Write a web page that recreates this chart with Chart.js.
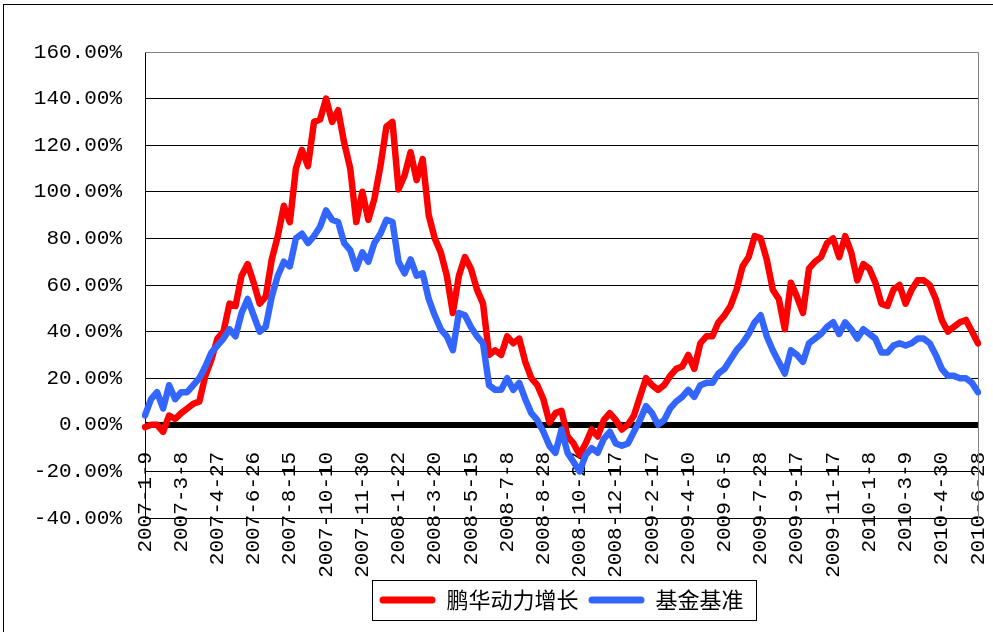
<!DOCTYPE html>
<html>
<head>
<meta charset="utf-8">
<script src="https://cdn.jsdelivr.net/npm/chart.js@4.4.0/dist/chart.umd.min.js"></script>
<style>
  html, body { margin: 0; padding: 0; background: #fff; overflow: hidden; }
  #frame { position: absolute; left: 3px; top: 4px; width: 1100px; height: 800px; border: 1px solid #000; }
  #wrap { position: absolute; left: 0; top: 0; width: 993px; height: 632px; }
</style>
</head>
<body>
<div id="frame"></div>
<div id="wrap"><canvas id="myChart" width="993" height="632"></canvas></div>
<script>
// fechas que se muestran en el eje x (una cada 6 muestras)
const tickLabels = ['2007-1-9', '2007-3-8', '2007-4-27', '2007-6-26', '2007-8-15', '2007-10-10',
    '2007-11-30', '2008-1-22', '2008-3-20', '2008-5-15', '2008-7-8', '2008-8-28',
    '2008-10-27', '2008-12-17', '2009-2-17', '2009-4-10', '2009-6-5', '2009-7-28',
    '2009-9-17', '2009-11-17', '2010-1-8', '2010-3-9', '2010-4-30', '2010-6-28'];
const pointsPerTick = 6;

const seriesNames = ['鹏华动力增长', '基金基准'];

// valores en %
const fundValues = [
    -1, 0, 0, -3, 4, 2.5, 5, 7, 9, 10, 21, 28,
    37, 40, 52, 51, 64, 69, 61, 52, 55, 71, 81, 94,
    87, 110, 118, 111, 130, 131, 140, 130, 135, 121, 110, 87,
    100, 88, 97, 111, 128, 130, 101, 107, 117, 105, 114, 90,
    80, 74, 64, 48, 64, 72, 67, 58, 52, 30, 32, 30,
    38, 35, 37, 27, 20, 17, 11, 1, 5, 6, -5, -8,
    -13, -8, -2, -5, 2, 5, 2, -2, 0, 4, 12, 20,
    17, 15, 17, 21, 24, 25, 30, 24, 35, 38, 38, 44,
    47, 51, 58, 68, 72, 81, 80, 71, 58, 54, 41, 61,
    55, 48, 67, 70, 72, 78, 80, 72, 81, 74, 62, 69,
    67, 61, 52, 51, 58, 60, 52, 58, 62, 62, 60, 54,
    45, 40, 42, 44, 45, 40, 35
];
const benchValues = [
    4, 11, 14, 7, 17, 11, 14, 14, 17, 20, 25, 31,
    34, 37, 41, 38, 48, 54, 47, 40, 42, 55, 64, 70,
    68, 80, 82, 78, 81, 85, 92, 88, 87, 78, 75, 67,
    74, 70, 78, 82, 88, 87, 70, 65, 71, 64, 65, 54,
    47, 41, 38, 32, 48, 47, 42, 38, 35, 17, 15, 15,
    20, 15, 18, 11, 5, 2, -3, -9, -12, -2, -12, -16,
    -20, -13, -10, -12, -6, -3, -8, -9, -8, -3, 2, 8,
    5, 0, 2, 7, 10, 12, 15, 12, 17, 18, 18, 22,
    24, 28, 32, 35, 39, 44, 47, 38, 32, 27, 22, 32,
    30, 27, 35, 37, 39, 42, 44, 39, 44, 41, 37, 41,
    39, 37, 31, 31, 34, 35, 34, 35, 37, 37, 35, 30,
    24, 21, 21, 20, 20, 18, 14
];

const categories = fundValues.map((v, i) => i % pointsPerTick === 0 ? tickLabels[i / pointsPerTick] : '');

const monoFont = { family: "'Liberation Mono', monospace", size: 21 };
const LEGEND_GAP = 61; // espacio entre el area de trazado y la leyenda

// borde gris del area de trazado y recuadro de la leyenda
const framePlugin = {
    id: 'frames',
    beforeDatasetsDraw(chart) {
        const a = chart.chartArea;
        const ctx = chart.ctx;
        ctx.save();
        ctx.strokeStyle = '#808080';
        ctx.lineWidth = 1;
        ctx.beginPath();
        ctx.moveTo(a.left, Math.round(a.top) + 0.5);
        ctx.lineTo(Math.round(a.right) + 0.5, Math.round(a.top) + 0.5);
        ctx.lineTo(Math.round(a.right) + 0.5, a.bottom);
        ctx.stroke();
        ctx.restore();
    },
    afterDraw(chart) {
        const lg = chart.legend;
        const hb = lg.legendHitBoxes;
        if (!hb || !hb.length) return;
        const last = hb[hb.length - 1];
        const left = Math.round(hb[0].left - 7) + 0.5;
        const right = Math.round(last.left + last.width + 12) + 0.5;
        const top = Math.round(lg.top + LEGEND_GAP + 1) + 0.5;
        const bottom = Math.round(lg.bottom - 1) + 0.5;
        const ctx = chart.ctx;
        ctx.save();
        ctx.strokeStyle = '#000';
        ctx.lineWidth = 1;
        ctx.strokeRect(left, top, right - left, bottom - top);
        ctx.restore();
    }
};

const ctx = document.getElementById('myChart');

new Chart(ctx, {
    type: 'line',
    data: {
        labels: categories,
        datasets: [{
            label: seriesNames[0],
            data: fundValues,
            borderColor: '#FF0000',
            backgroundColor: '#FF0000',
            borderWidth: 6.5,
            pointRadius: 0,
            borderJoinStyle: 'round',
            borderCapStyle: 'round',
            order: 1
        }, {
            label: seriesNames[1],
            data: benchValues,
            borderColor: '#3366FF',
            backgroundColor: '#3366FF',
            borderWidth: 6.5,
            pointRadius: 0,
            borderJoinStyle: 'round',
            borderCapStyle: 'round',
            order: 0
        }]
    },
    options: {
        responsive: false,
        animation: false,
        devicePixelRatio: 1,
        layout: { padding: { left: 25, right: 15, top: 52, bottom: 11 } },
        plugins: {
            tooltip: { enabled: false },
            legend: {
                position: 'bottom',
                fullSize: false,
                title: {
                    display: true,
                    text: ' ',
                    font: { size: 10, lineHeight: 1 },
                    padding: { top: LEGEND_GAP - 10, bottom: 0 }
                },
                labels: {
                    boxWidth: 56,
                    boxHeight: 7,
                    padding: 10,
                    color: '#000',
                    font: { family: "'Noto Sans CJK SC'", size: 22 },
                    useBorderRadius: true,
                    borderRadius: 3.5,
                    sort: (a, b) => a.datasetIndex - b.datasetIndex,
                    generateLabels: (chart) => Chart.defaults.plugins.legend.labels.generateLabels(chart)
                        .map(l => Object.assign(l, { lineWidth: 0 }))
                }
            }
        },
        scales: {
            x: {
                type: 'category',
                axis: 'x',
                position: { y: 0 },
                offset: false,
                ticks: {
                    autoSkip: false,
                    maxRotation: 90,
                    minRotation: 90,
                    padding: 27,
                    color: '#000',
                    font: monoFont
                },
                grid: { display: false, drawTicks: false },
                border: { display: false },
                afterFit: (s) => {
                    s.height = 0;
                    s.paddingLeft = 0;
                    s.paddingRight = 0;
                }
            },
            y: {
                min: -40,
                max: 160,
                ticks: {
                    stepSize: 20,
                    padding: 23,
                    color: '#000',
                    font: monoFont,
                    callback: (v) => v.toFixed(2) + '%'
                },
                grid: {
                    drawTicks: false,
                    color: (c) => c.tick && c.tick.value === 160 ? '#909090' : '#000',
                    lineWidth: (c) => c.tick && c.tick.value === 0 ? 6 : 1
                },
                border: { color: '#000', width: 1 },
                afterFit: (s) => { s.width = 120; }
            }
        }
    },
    plugins: [framePlugin]
});
</script>
</body>
</html>
